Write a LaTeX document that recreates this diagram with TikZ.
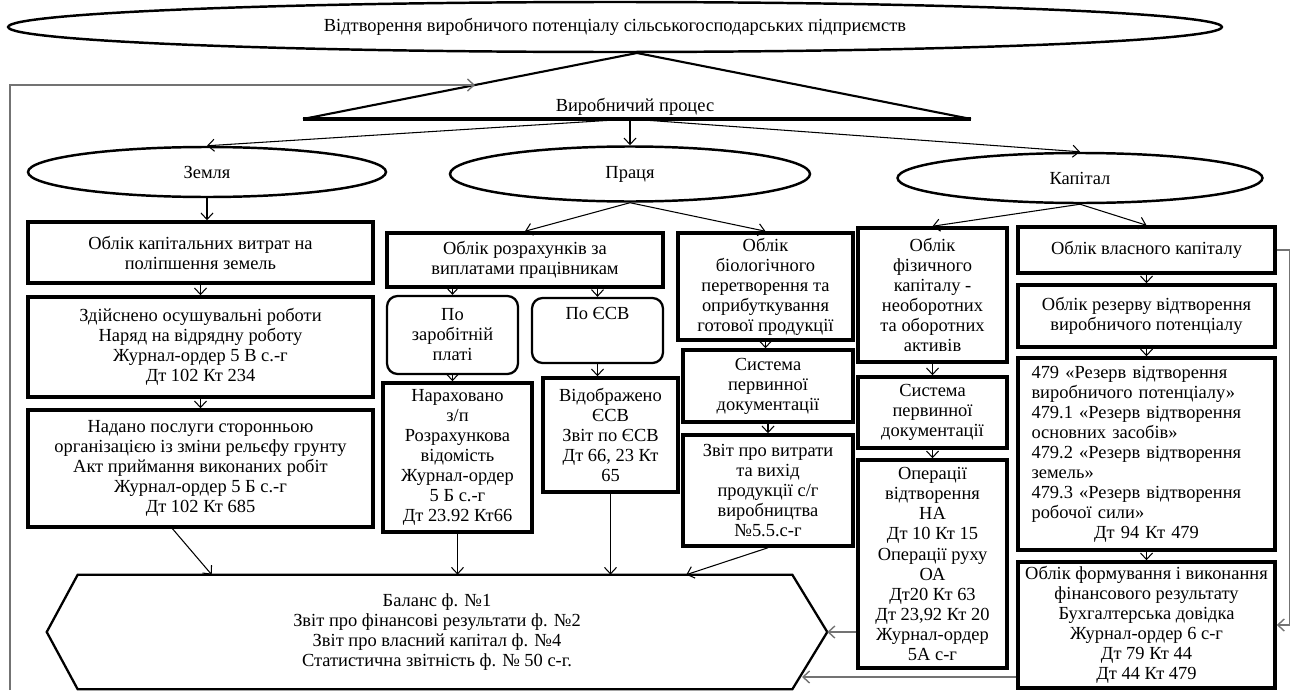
\documentclass[tikz,border=0pt]{standalone}
\usepackage{fontspec}
\setmainfont{Liberation Serif}
\usetikzlibrary{shapes.geometric,arrows.meta,calc}
\begin{document}
\begin{tikzpicture}[x=0.02cm,y=-0.02cm,
 font=\fontsize{10.5}{11.4}\selectfont,
 box/.style={draw,line width=2pt,align=center,inner sep=2pt},
 rbox/.style={draw,line width=1.3pt,rounded corners=6pt,align=center,inner sep=2pt},
 oval/.style={draw,ellipse,line width=1.4pt,inner sep=0pt},
 arrow/.style={-{Straight Barb[length=1.3mm,width=2.4mm]},line width=0.6pt},
 fback/.style={-{Straight Barb[length=1.3mm,width=2.4mm]},line width=0.8pt,draw=black!55}]
\useasboundingbox (0,0) rectangle (1291,693);
% top level
\node[oval,minimum width=24.28cm,minimum height=1cm] (vidtv) at (615,27) {Відтворення виробничого потенціалу сільськогосподарських підприємств};
\coordinate (apex) at (637,53);
\coordinate (tl) at (303,119);
\coordinate (tr) at (971,119);
\coordinate (tribase) at (630,119);
\draw[line width=1.2pt] (tl) -- (apex) -- (tr);
\draw[line width=2pt] (tl) -- (tr);
\node (proc) at (635,107) {Виробничий процес};
\node[oval,minimum width=7.16cm,minimum height=1cm] (zemlia) at (207,172) {Земля};
\node[oval,minimum width=7.2cm,minimum height=1.1cm] (pratsia) at (630,174) {Праця};
\node[oval,minimum width=7.3cm,minimum height=1cm] (kapital) at (1080,178) {Капітал};
\draw[arrow] (tribase) -- (zemlia.north);
\draw[arrow] (tribase) -- (pratsia.north);
\draw[arrow] (tribase) -- (kapital.north);
% land
\node[box,minimum width=6.9cm,minimum height=1.22cm] (kapvytr) at (200.5,252.5) {Облік капітальних витрат на\\поліпшення земель};
\node[box,minimum width=6.9cm,minimum height=2cm] (osush) at (200.5,347) {Здійснено осушувальні роботи\\Наряд на відрядну роботу\\Журнал-ордер 5 В с.-г\\Дт 102 Кт 234};
\node[box,minimum width=6.9cm,minimum height=2.34cm] (poslugy) at (200.5,468.5) {Надано послуги сторонньою\\організацією із зміни рельєфу грунту\\Акт приймання виконаних робіт\\Журнал-ордер 5 Б с.-г\\Дт 102 Кт 685};
\draw[arrow] (zemlia.south) -- (zemlia.south |- kapvytr.north);
\draw[arrow] (kapvytr) -- (osush);
\draw[arrow] (osush) -- (poslugy);
% labour
\node[box,minimum width=5.52cm,minimum height=1.08cm] (rozrah) at (525,260) {Облік розрахунків за\\виплатами працівникам};
\node[rbox,minimum width=2.62cm,minimum height=1.56cm] (zarpl) at (452.5,335) {По\\заробітній\\платі};
\node[rbox,minimum width=2.62cm,minimum height=1.3cm,text height=0.32cm,text depth=0.78cm,inner ysep=0.1cm] (esv) at (597.5,330.5) {По ЄСВ};
\node[box,minimum width=2.98cm,minimum height=2.98cm] (narah) at (457.5,457.5) {Нараховано\\з/п\\Розрахункова\\відомість\\Журнал-ордер\\5 Б с.-г\\Дт 23.92 Кт66};
\node[box,minimum width=2.7cm,minimum height=2.28cm] (vidobr) at (610.5,435) {Відображено\\ЄСВ\\Звіт по ЄСВ\\Дт 66, 23 Кт\\65};
\node[box,minimum width=3.5cm,minimum height=2.14cm] (biol) at (765.5,286.5) {Облік\\біологічного\\перетворення та\\оприбуткування\\готової продукції};
\node[box,minimum width=3.4cm,minimum height=1.44cm] (sysbio) at (768,386) {Система\\первинної\\документації};
\node[box,minimum width=3.4cm,minimum height=2.22cm] (zvitbio) at (768,490.5) {Звіт про витрати\\та вихід\\продукції с/г\\виробництва\\№5.5.с-г};
\draw[arrow] (pratsia.south) -- (rozrah.north);
\draw[arrow] (pratsia.south) -- (biol.north);
\draw[arrow] (rozrah.south -| zarpl.north) -- (zarpl.north);
\draw[arrow] (rozrah.south -| esv.north) -- (esv.north);
\draw[arrow] (zarpl.south) -- (zarpl.south |- narah.north);
\draw[arrow] (esv.south) -- (esv.south |- vidobr.north);
\draw[arrow] (biol.south) -- (biol.south |- sysbio.north);
\draw[arrow] (sysbio) -- (zvitbio);
% capital
\node[box,minimum width=2.98cm,minimum height=2.68cm] (fizkap) at (932.5,295) {Облік\\фізичного\\капіталу -\\необоротних\\та оборотних\\активів};
\node[box,minimum width=2.98cm,minimum height=1.42cm] (syskap) at (932.5,412.5) {Система\\первинної\\документації};
\node[box,minimum width=2.98cm,minimum height=4.16cm,inner ysep=0pt] (operac) at (932.5,564) {Операції\\відтворення\\НА\\Дт 10 Кт 15\\Операції руху\\ОА\\Дт20 Кт 63\\Дт 23,92 Кт 20\\Журнал-ордер\\5А с-г};
\node[box,minimum width=5.14cm,minimum height=0.92cm] (vlkap) at (1146.5,250) {Облік власного капіталу};
\node[box,minimum width=5.14cm,minimum height=1.24cm] (rezerv) at (1146.5,316) {Облік резерву відтворення\\виробничого потенціалу};
\node[box,minimum width=5.14cm,minimum height=3.84cm,text width=4.6cm,align=left] (rah479) at (1146.5,454) {479 «Резерв відтворення\\виробничого потенціалу»\\479.1 «Резерв відтворення\\основних засобів»\\479.2 «Резерв відтворення\\земель»\\479.3 «Резерв відтворення\\робочої сили»\\\makebox[4.6cm]{Дт 94 Кт 479}};
\node[box,minimum width=5.14cm,minimum height=2.52cm] (finrez) at (1146.5,625) {Облік формування і виконання\\фінансового результату\\Бухгалтерська довідка\\Журнал-ордер 6 с-г\\Дт 79 Кт 44\\Дт 44 Кт 479};
\draw[arrow] (kapital.south) -- (fizkap.north);
\draw[arrow] (kapital.south) -- (vlkap.north);
\draw[arrow] (fizkap) -- (syskap);
\draw[arrow] (syskap) -- (operac);
\draw[arrow] (vlkap) -- (rezerv);
\draw[arrow] (rezerv) -- (rah479);
\draw[arrow] (rah479) -- (finrez);
% reporting
\node[minimum width=15.6cm,minimum height=2.28cm,align=center] (balans) at (437,632) {Баланс ф. №1\\Звіт про фінансові результати ф. №2\\Звіт про власний капітал ф. №4\\Статистична звітність ф. № 50 с-г.};
\draw[line width=1.3pt] (balans.west) -- ([xshift=0.62cm]balans.north west) -- ([xshift=-0.7cm]balans.north east) -- (balans.east) -- ([xshift=-0.7cm]balans.south east) -- ([xshift=0.62cm]balans.south west) -- cycle;
\coordinate (balin) at (802,677);
\coordinate (loopst) at (10,690);
\draw[arrow] ([xshift=-0.56cm]poslugy.south) -- ([xshift=3.3cm]balans.north west);
\draw[arrow] (narah.south) -- (narah.south |- balans.north);
\draw[arrow] (vidobr.south) -- (vidobr.south |- balans.north);
\draw[arrow] (zvitbio.south) -- ([xshift=-2.82cm]balans.north east);
\draw[fback] (operac.west |- balans.east) -- (balans.east);
\draw[fback] (finrez.west |- balin) -- (balin);
% feedback loops
\draw[fback] (vlkap.east) -- ++(13,0) |- (finrez.east);
\draw[fback] (loopst) |- ($(apex)!0.485!(tl)$);
\end{tikzpicture}
\end{document}
